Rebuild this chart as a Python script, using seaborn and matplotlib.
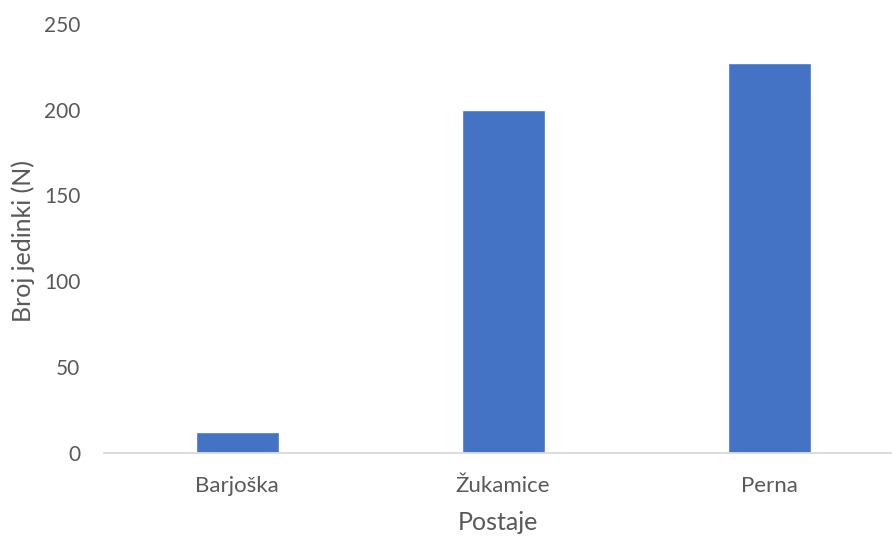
import matplotlib
matplotlib.use("Agg")
import matplotlib.pyplot as plt
import seaborn as sns
import pandas as pd

# Number of individuals recorded at each station
postaje = ["Barjoška", "Žukamice", "Perna"]
broj_jedinki = [12, 200, 227]
y_ticks = [0, 50, 100, 150, 200, 250]

sns.set_theme(style="white")
plt.rcParams["font.family"] = ["Lato", "DejaVu Sans"]

text_color = "#595959"
bar_color = "#4472C4"

df = pd.DataFrame({"Postaje": postaje, "Broj": broj_jedinki})

fig = plt.figure(figsize=(8.92, 5.36), dpi=100)
ax = fig.add_axes([0.1166, 0.1554, 0.8834, 0.7998])

sns.barplot(data=df, x="Postaje", y="Broj", color=bar_color, width=0.312,
            saturation=1, ax=ax)

ax.set_xlim(-0.5, 2.462)
ax.set_ylim(0, 250)
ax.set_yticks(y_ticks)
ax.set_yticklabels([str(v) for v in y_ticks])

for side in ["top", "right", "left"]:
    ax.spines[side].set_visible(False)
ax.spines["bottom"].set_color("#D9D9D9")
ax.spines["bottom"].set_linewidth(1.3)

ax.tick_params(axis="both", length=0, colors=text_color)
ax.tick_params(axis="y", pad=17, labelsize=15)
ax.tick_params(axis="x", pad=17, labelsize=16)
ax.grid(False)

ax.set_xlabel("Postaje", fontsize=18, color=text_color)
ax.set_ylabel("Broj jedinki (N)", fontsize=18, color=text_color)
ax.xaxis.set_label_coords(0.5, -0.163)
ax.yaxis.set_label_coords(-0.103, 0.495)
ax.xaxis.label.set_verticalalignment("center")
ax.yaxis.label.set_verticalalignment("center")

fig.savefig("out.png", dpi=100, facecolor="white")
